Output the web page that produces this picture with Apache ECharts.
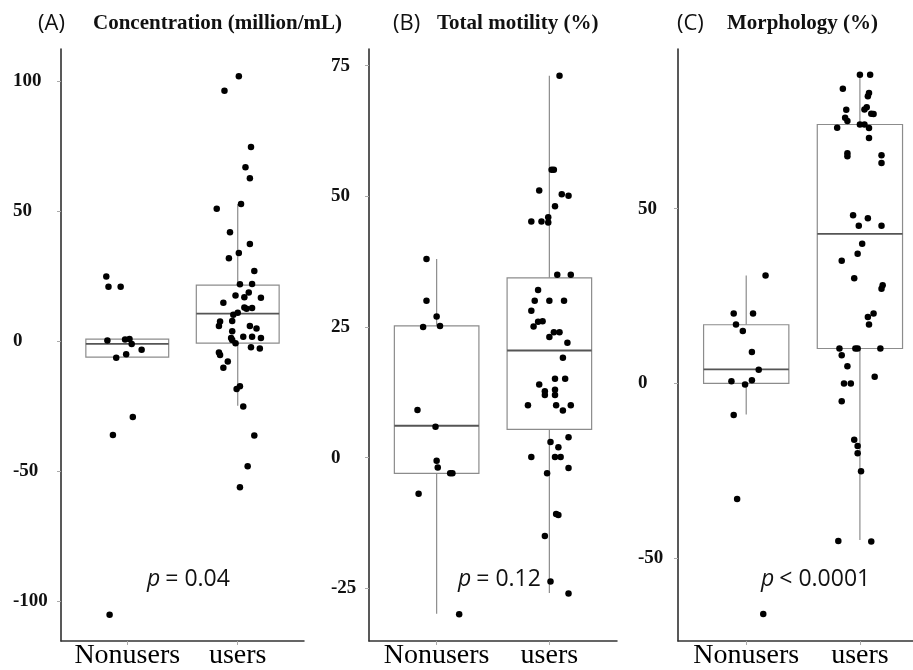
<!DOCTYPE html>
<html lang="en">
<head>
<meta charset="UTF-8">
<title>Nonusers vs users</title>
<script src="https://cdn.jsdelivr.net/npm/echarts@6/dist/echarts.min.js"></script>
<style>
  html, body { margin: 0; padding: 0; background: #fff; }
  #main { width: 913px; height: 670px; }
</style>
</head>
<body>
<div id="main"></div>
<script>
// groups on the x axis (1 = Nonusers, 2 = users)
var groups = ['Nonusers', 'users'];

// (A) concentration, million/mL
var concNonusers = [25.0, 21.1, 21.1, 0.4, 0.8, 1.0, -1.0, -3.2, -4.9, -6.3, -29.0, -36.0, -105.1];
var concNonusersJit = [-0.19, -0.17, -0.06, -0.18, -0.02, 0.02, 0.04, 0.13, -0.01, -0.10, 0.05, -0.13, -0.16];
var concUsers = [102.0, 96.4, 74.8, 67.0, 62.8, 51.1, 52.9, 42.0, 37.5, 34.0, 32.0, 27.1, 22.0, 22.1, 17.7,
  17.0, 18.8, 16.8, 14.9, 12.6, 12.9, 13.1, 10.3, 11.1, 7.7, 6.0, 7.9, 6.0, 5.0, 3.9, 1.3, 0.6, 1.8, 1.8,
  1.3, -0.7, -2.2, -2.7, -4.2, -5.2, -7.7, -10.1, -18.3, -17.2, -25.0, -36.2, -48.0, -56.1];
var concUsersJit = [0.01, -0.12, 0.12, 0.07, 0.11, -0.19, 0.03, -0.07, 0.11, 0.01, -0.08, 0.15, 0.02, 0.13, -0.02,
  0.06, 0.10, 0.21, -0.13, 0.08, 0.13, 0.06, -0.04, 0.00, -0.16, -0.17, -0.05, 0.11, 0.17, -0.05, -0.06, -0.05, 0.05, 0.13,
  0.21, -0.02, 0.12, 0.20, -0.17, -0.16, -0.09, -0.13, -0.01, 0.02, 0.05, 0.15, 0.09, 0.02];
// [min, q1, median, q3, max]
var concBox = [[-6.3, -6.0, -0.9, 0.9, 1.0], [-24.7, -0.6, 10.7, 21.7, 52.9]];
var concTicks = [-100, -50, 0, 50, 100];

// (B) total motility, %
var motNonusers = [38.0, 30.0, 27.0, 25.0, 25.2, 9.1, 5.9, -0.6, -1.9, -3.0, -3.0, -6.9, -30.0];
var motNonusersJit = [-0.09, -0.09, 0.00, -0.12, 0.03, -0.17, -0.01, 0.00, 0.01, 0.12, 0.14, -0.16, 0.20];
var motUsers = [73.1, 55.1, 55.1, 51.1, 50.4, 50.1, 48.1, 46.0, 45.2, 45.2, 45.0, 35.0, 35.0, 32.1, 30.0, 30.0,
  30.0, 28.1, 26.0, 26.1, 25.1, 24.0, 24.0, 23.1, 22.0, 19.1, 15.1, 15.1, 14.0, 13.0, 12.0, 12.0, 12.7, 10.0,
  10.0, 10.0, 9.0, 3.9, 3.0, 2.0, 0.1, 0.1, 0.1, -2.0, -3.0, -10.8, -11.0, -15.0, -23.7, -26.0];
var motUsersJit = [0.09, 0.02, 0.04, -0.09, 0.11, 0.17, 0.05, -0.01, -0.16, -0.07, -0.01, 0.07, 0.19, -0.10, -0.13, 0.00,
  0.13, -0.16, -0.10, -0.06, -0.14, 0.04, 0.09, 0.00, 0.16, 0.12, 0.05, 0.14, -0.09, 0.05, 0.05, -0.04, -0.04, -0.19,
  0.06, 0.19, 0.12, 0.17, 0.01, 0.08, -0.16, 0.05, 0.10, 0.17, -0.02, 0.06, 0.08, -0.04, 0.01, 0.17];
var motBox = [[-29.9, -3.0, 6.1, 25.2, 38.0], [-25.9, 5.4, 20.5, 34.4, 73.1]];
var motTicks = [-25, 0, 25, 50, 75];

// (C) morphology, %
var morphNonusers = [30.9, 20.0, 20.0, 16.9, 15.0, 9.0, 3.9, 0.6, -0.3, 0.9, -9.0, -33.1, -66.0];
var morphNonusersJit = [0.17, -0.11, 0.06, -0.09, -0.03, 0.05, 0.11, -0.13, -0.01, 0.05, -0.11, -0.08, 0.15];
var morphUsers = [88.3, 88.3, 84.3, 83.1, 82.2, 78.3, 78.4, 79.0, 77.2, 77.1, 76.0, 75.1, 74.1, 74.1, 73.2, 73.1,
  70.2, 65.9, 65.0, 65.3, 63.1, 48.1, 47.3, 45.1, 45.1, 40.0, 37.1, 35.1, 30.1, 28.1, 27.1, 20.0, 19.0, 16.9,
  10.0, 10.0, 10.0, 10.0, 8.1, 4.9, 1.9, 0.0, 0.0, -5.1, -16.1, -17.9, -20.0, -25.1, -45.1, -45.2];
var morphUsersJit = [0.00, 0.09, -0.15, 0.08, 0.07, -0.12, 0.04, 0.06, 0.10, 0.12, -0.13, -0.11, 0.00, 0.04, -0.20, 0.08,
  0.08, -0.11, -0.11, 0.19, 0.19, -0.06, 0.07, -0.01, 0.19, 0.02, -0.02, -0.16, -0.05, 0.20, 0.19, 0.12, 0.07, 0.08,
  -0.18, -0.04, -0.02, 0.18, -0.16, -0.11, 0.13, -0.14, -0.08, -0.16, -0.05, -0.02, -0.02, 0.01, -0.19, 0.10];
var morphBox = [[-8.9, 0.0, 4.0, 16.8, 30.9], [-44.8, 10.0, 42.8, 74.1, 88.3]];
var morphTicks = [-50, 0, 50];

var panels = [
  { tag: '(A)', name: 'Concentration (million/mL)', non: concNonusers, nonJit: concNonusersJit,
    users: concUsers, usersJit: concUsersJit, box: concBox, ticks: concTicks, p: '= 0.04',
    left: 61, width: 243, xMax: 2.6, yMin: -115.2, yMax: 112.5, labelMargin: 48,
    tagX: 33, nameX: 88, pX: 142 },
  { tag: '(B)', name: 'Total motility (%)', non: motNonusers, nonJit: motNonusersJit,
    users: motUsers, usersJit: motUsersJit, box: motBox, ticks: motTicks, p: '= 0.12',
    left: 369, width: 248, xMax: 2.6, yMin: -35.1, yMax: 78.2, labelMargin: 38,
    tagX: 388, nameX: 432, pX: 453 },
  { tag: '(C)', name: 'Morphology (%)', non: morphNonusers, nonJit: morphNonusersJit,
    users: morphUsers, usersJit: morphUsersJit, box: morphBox, ticks: morphTicks, p: '< 0.0001',
    left: 678, width: 235, xMax: 2.467, yMin: -73.7, yMax: 95.7, labelMargin: 40,
    tagX: 672, nameX: 722, pX: 756 }
];

function jitter(vals, offs, center) {
  var out = [];
  for (var i = 0; i < vals.length; i++) out.push([center + offs[i], vals[i]]);
  return out;
}

function renderBox(params, api) {
  var x = api.value(0);
  var half = api.size([0.75, 0])[0] / 2;
  var pMin = api.coord([x, api.value(1)]);
  var pQ1 = api.coord([x, api.value(2)]);
  var pMed = api.coord([x, api.value(3)]);
  var pQ3 = api.coord([x, api.value(4)]);
  var pMax = api.coord([x, api.value(5)]);
  var grey = { stroke: '#8c8c8c', lineWidth: 1.2, fill: null };
  return {
    type: 'group',
    children: [
      { type: 'line', shape: { x1: pMax[0], y1: pMax[1], x2: pQ3[0], y2: pQ3[1] }, style: grey },
      { type: 'line', shape: { x1: pMin[0], y1: pMin[1], x2: pQ1[0], y2: pQ1[1] }, style: grey },
      { type: 'rect', shape: { x: pQ3[0] - half, y: pQ3[1], width: half * 2, height: pQ1[1] - pQ3[1] },
        style: { stroke: '#8c8c8c', lineWidth: 1.2, fill: 'rgba(255,255,255,0)' } },
      { type: 'line', shape: { x1: pMed[0] - half, y1: pMed[1], x2: pMed[0] + half, y2: pMed[1] },
        style: { stroke: '#555', lineWidth: 1.8 } }
    ]
  };
}

var grid = [], xAxis = [], yAxis = [], series = [], title = [];

panels.forEach(function (pn, k) {
  grid.push({ left: pn.left, top: 49, width: pn.width, height: 594 });
  xAxis.push({
    gridIndex: k, type: 'value', min: 0.4, max: pn.xMax,
    splitLine: { show: false },
    axisLine: { show: true, onZero: false, lineStyle: { color: '#333', width: 1.5 } },
    axisTick: { show: true, customValues: [1, 2], length: 4, lineStyle: { color: '#aaa' } },
    axisLabel: {
      customValues: [1, 2], margin: 1,
      formatter: function (v) { return groups[Math.round(v) - 1]; },
      fontFamily: 'Liberation Serif', fontSize: 28, color: '#000'
    }
  });
  yAxis.push({
    gridIndex: k, type: 'value', min: pn.yMin, max: pn.yMax,
    splitLine: { show: false },
    axisLine: { show: true, onZero: false, lineStyle: { color: '#222', width: 1.5 } },
    axisTick: { show: true, customValues: pn.ticks, length: 4, lineStyle: { color: '#aaa' } },
    axisLabel: {
      customValues: pn.ticks, margin: pn.labelMargin, align: 'left',
      fontFamily: 'Liberation Serif', fontWeight: 'bold', fontSize: 19, color: '#111'
    }
  });
  series.push({
    type: 'custom', xAxisIndex: k, yAxisIndex: k, z: 1,
    renderItem: renderBox,
    data: pn.box.map(function (b, i) { return [i + 1].concat(b); }),
    silent: true
  });
  series.push({
    type: 'scatter', xAxisIndex: k, yAxisIndex: k, z: 3,
    symbolSize: 6.5, itemStyle: { color: '#000', opacity: 1 },
    data: jitter(pn.non, pn.nonJit, 1).concat(jitter(pn.users, pn.usersJit, 2))
  });
  title.push({
    text: pn.tag, left: pn.tagX, top: 8,
    textStyle: { fontFamily: 'Open Sans', fontWeight: 'normal', fontSize: 22, color: '#111' }
  });
  title.push({
    text: pn.name, left: pn.nameX, top: 8,
    textStyle: { fontFamily: 'Liberation Serif', fontWeight: 'bold', fontSize: 21, color: '#111' }
  });
  title.push({
    text: '{i|p} {t|' + pn.p + '}', left: pn.pX, top: 563,
    textStyle: {
      fontWeight: 'normal',
      rich: {
        i: { fontFamily: 'Open Sans', fontStyle: 'italic', fontWeight: 'normal', fontSize: 23, color: '#111' },
        t: { fontFamily: 'Open Sans', fontWeight: 'normal', fontSize: 23, color: '#111' }
      }
    }
  });
});

var myChart = echarts.init(document.getElementById('main'));
myChart.setOption({
  animation: false,
  backgroundColor: '#fff',
  title: title,
  grid: grid,
  xAxis: xAxis,
  yAxis: yAxis,
  series: series
});
</script>
</body>
</html>
